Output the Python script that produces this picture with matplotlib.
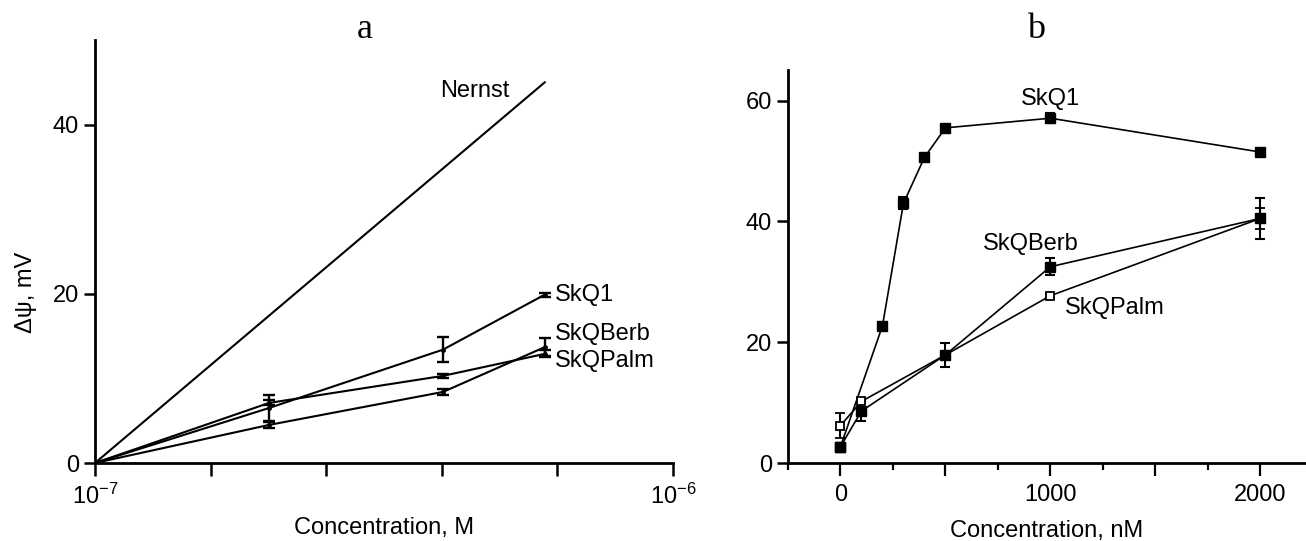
import matplotlib
matplotlib.use("Agg")
import matplotlib.pyplot as plt
import numpy as np

plt.rcParams['font.family'] = ['Liberation Sans', 'DejaVu Sans']

# panel a: concentration, M (log scale) vs membrane potential, mV
conc_a = [1e-7, 2e-7, 4e-7, 6e-7]
nernst_x = [1e-7, 6e-7]
nernst_y = [0, 45.0]
skq1_a = [0, 6.5, 13.4, 19.9]
skq1_a_err = [0, 1.5, 1.5, 0.25]
skqberb_a = [0, 4.5, 8.4, 13.7]
skqberb_a_err = [0, 0.4, 0.4, 1.1]
skqpalm_a = [0, 7.1, 10.3, 12.9]
skqpalm_a_err = [0, 0.3, 0.25, 0.4]

# panel b: concentration, nM vs membrane potential, mV
skq1_x = [0, 200, 300, 400, 500, 1000, 2000]
skq1_b = [2.7, 22.7, 43.0, 50.6, 55.5, 57.1, 51.5]
skq1_b_err = [0.5, 0.4, 1.0, 0.3, 0.4, 0.8, 0.3]
berb_x = [0, 100, 500, 1000, 2000]
skqberb_b = [2.7, 8.6, 17.9, 32.5, 40.5]
skqberb_b_err = [0.5, 1.6, 2.0, 1.4, 3.4]
palm_x = [0, 100, 500, 1000, 2000]
skqpalm_b = [6.2, 10.2, 17.9, 27.7, 40.5]
skqpalm_b_err = [2.0, 0.3, 0.3, 0.3, 1.8]

FS = 17

fig = plt.figure(figsize=(13.06, 5.41), dpi=100)
axA = fig.add_axes([95/1306, 1-463/541, (673-95)/1306, (463-40)/541])
axB = fig.add_axes([788/1306, 1-463/541, (1306-788)/1306, (463-70.5)/541])

# ---- panel a
axA.set_xscale('log')
axA.plot(nernst_x, nernst_y, color='black', lw=1.5)
for yv, ev in [(skq1_a, skq1_a_err), (skqberb_a, skqberb_a_err), (skqpalm_a, skqpalm_a_err)]:
    axA.errorbar(conc_a, yv, yerr=ev, color='black', lw=1.5, elinewidth=1.7,
                 capsize=4, capthick=1.7, marker='o', markersize=2.5)
axA.set_xlim(1e-7, 1e-6)
axA.set_ylim(0, 50)
axA.set_yticks([0, 20, 40])
axA.xaxis.set_major_locator(matplotlib.ticker.FixedLocator([1e-7, 1e-6]))
axA.xaxis.set_minor_locator(matplotlib.ticker.FixedLocator(10.0 ** np.array([-6.8, -6.6, -6.4, -6.2])))
axA.xaxis.set_minor_formatter(matplotlib.ticker.NullFormatter())
axA.set_xticklabels([r'$\mathregular{10^{-7}}$', r'$\mathregular{10^{-6}}$'])
axA.tick_params(axis='x', which='both', length=9, width=1.8, pad=6, labelsize=FS)
axA.tick_params(axis='y', length=8, width=1.8, labelsize=FS)
axA.set_xlabel('Concentration, M', fontsize=FS, labelpad=6)
axA.set_ylabel('Δψ, mV', fontsize=FS)
axA.yaxis.set_label_coords(-0.10, 0.404)
axA.text(3.95e-7, 44.0, 'Nernst', fontsize=FS, va='center')
axA.text(6.25e-7, 19.9, 'SkQ1', fontsize=FS, va='center')
axA.text(6.25e-7, 15.3, 'SkQBerb', fontsize=FS, va='center')
axA.text(6.25e-7, 12.1, 'SkQPalm', fontsize=FS, va='center')

# ---- panel b
axB.errorbar(skq1_x, skq1_b, yerr=skq1_b_err, color='black', lw=1.2, elinewidth=1.5,
             capsize=3.5, capthick=1.5, marker='s', markersize=7.5)
axB.errorbar(palm_x, skqpalm_b, yerr=skqpalm_b_err, color='black', lw=1.2, elinewidth=1.5,
             capsize=3.5, capthick=1.5, marker='s', markersize=6,
             markerfacecolor='white', markeredgewidth=1.3)
axB.errorbar(berb_x, skqberb_b, yerr=skqberb_b_err, color='black', lw=1.2, elinewidth=1.5,
             capsize=3.5, capthick=1.5, marker='s', markersize=7.5)
axB.set_xlim(-250, 2218)
axB.set_ylim(0, 65)
axB.set_yticks([0, 20, 40, 60])
axB.set_xticks([0, 500, 1000, 1500, 2000])
axB.set_xticklabels(['0', '', '1000', '', '2000'])
axB.set_xticks([-250, 250, 750, 1250, 1750], minor=True)
axB.tick_params(axis='x', which='major', length=9, width=1.6, pad=6, labelsize=FS)
axB.tick_params(axis='x', which='minor', length=5, width=1.6)
axB.tick_params(axis='y', length=8, width=1.8, labelsize=FS)
axB.set_xlabel('Concentration, nM', fontsize=FS, labelpad=10)
axB.text(1000, 60.3, 'SkQ1', fontsize=FS, ha='center', va='center')
axB.text(905, 36.2, 'SkQBerb', fontsize=FS, ha='center', va='center')
axB.text(1309, 25.7, 'SkQPalm', fontsize=FS, ha='center', va='center')

for ax in (axA, axB):
    ax.spines['top'].set_visible(False)
    ax.spines['right'].set_visible(False)
    ax.spines['left'].set_linewidth(2)
    ax.spines['bottom'].set_linewidth(2)

fig.text(365/1306, 1-30/541, 'a', family=['Liberation Serif', 'DejaVu Serif'],
         fontsize=26, ha='center', va='center')
fig.text(1036/1306, 1-29/541, 'b', family=['Liberation Serif', 'DejaVu Serif'],
         fontsize=26, ha='center', va='center')

fig.savefig('out.png', dpi=100)
